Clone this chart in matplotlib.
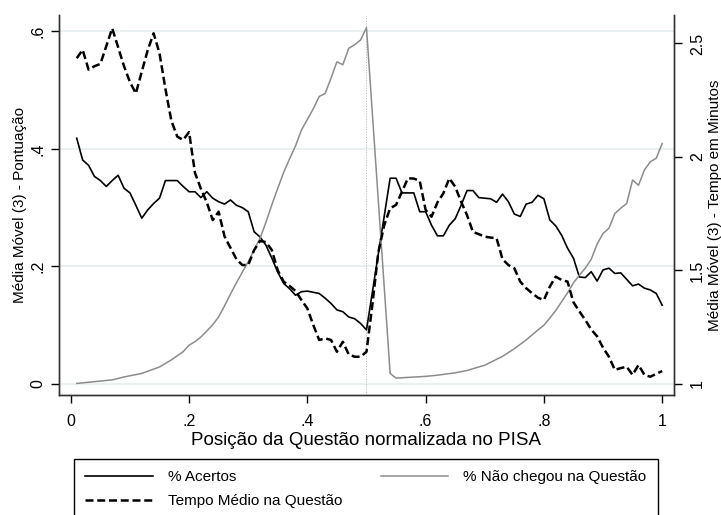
import numpy as np
import matplotlib.pyplot as plt

plt.rcParams['font.family'] = ['Liberation Sans', 'DejaVu Sans']

# % Acertos (eixo esquerdo)
x_acertos = [0.01, 0.02, 0.03, 0.04, 0.05, 0.06, 0.07, 0.08, 0.09, 0.10,
             0.11, 0.12, 0.13, 0.14, 0.15, 0.16, 0.18, 0.19, 0.20, 0.21,
             0.22, 0.23, 0.24, 0.25, 0.26, 0.27, 0.28, 0.29, 0.30, 0.31,
             0.32, 0.33, 0.34, 0.35, 0.36, 0.37, 0.38, 0.39, 0.40, 0.41,
             0.42, 0.43, 0.44, 0.45, 0.46, 0.47, 0.48, 0.49, 0.50, 0.54,
             0.55, 0.56, 0.57, 0.58, 0.59, 0.60, 0.61, 0.62, 0.63, 0.64,
             0.65, 0.66, 0.67, 0.68, 0.69, 0.70, 0.71, 0.72, 0.73, 0.74,
             0.75, 0.76, 0.77, 0.78, 0.79, 0.80, 0.81, 0.82, 0.83, 0.84,
             0.85, 0.86, 0.87, 0.88, 0.89, 0.90, 0.91, 0.92, 0.93, 0.94,
             0.95, 0.96, 0.97, 0.98, 0.99, 1.00]
acertos = [.418, .381, .372, .353, .346, .336, .346, .355, .333, .325,
           .304, .282, .296, .307, .316, .346, .346, .336, .327, .327,
           .317, .327, .316, .310, .306, .313, .304, .300, .293, .259,
           .250, .236, .214, .190, .171, .162, .151, .157, .158, .156,
           .154, .146, .137, .126, .123, .114, .111, .103, .092, .350,
           .350, .325, .325, .325, .293, .293, .270, .252, .252, .270,
           .281, .304, .329, .329, .317, .316, .315, .309, .323, .310,
           .289, .285, .306, .309, .321, .315, .279, .269, .253, .231,
           .214, .182, .181, .191, .175, .194, .197, .188, .189, .178,
           .167, .170, .163, .160, .154, .134]

# % Nao chegou na questao (eixo esquerdo)
x_naochegou = [0.01, 0.04, 0.07, 0.09, 0.12, 0.15, 0.17, 0.19, 0.20, 0.21,
               0.22, 0.23, 0.24, 0.25, 0.26, 0.27, 0.28, 0.29, 0.30, 0.31,
               0.32, 0.33, 0.34, 0.35, 0.36, 0.37, 0.38, 0.39, 0.40, 0.41,
               0.42, 0.43, 0.44, 0.45, 0.46, 0.47, 0.48, 0.49, 0.50, 0.54,
               0.55, 0.60, 0.62, 0.65, 0.67, 0.70, 0.73, 0.75, 0.77, 0.79,
               0.80, 0.81, 0.82, 0.83, 0.84, 0.85, 0.86, 0.87, 0.88, 0.89,
               0.90, 0.91, 0.92, 0.93, 0.94, 0.95, 0.96, 0.97, 0.98, 0.99,
               1.00]
naochegou = [.001, .004, .007, .012, .018, .029, .041, .055, .066, .072,
             .080, .090, .101, .114, .133, .153, .172, .190, .208, .228,
             .248, .275, .305, .333, .360, .383, .405, .432, .450, .468,
             .489, .494, .520, .548, .543, .571, .577, .585, .606, .018,
             .010, .013, .015, .019, .023, .032, .047, .060, .075, .092,
             .100, .112, .125, .140, .155, .172, .185, .197, .212, .238,
             .256, .265, .290, .299, .307, .347, .338, .364, .378, .384,
             .409]

# Tempo medio na questao, em minutos (eixo direito)
x_tempo = [0.01, 0.02, 0.03, 0.04, 0.05, 0.07, 0.09, 0.10, 0.11, 0.12,
           0.13, 0.14, 0.15, 0.16, 0.17, 0.18, 0.19, 0.20, 0.21, 0.22,
           0.23, 0.24, 0.25, 0.26, 0.27, 0.28, 0.29, 0.30, 0.31, 0.32,
           0.33, 0.34, 0.35, 0.36, 0.37, 0.38, 0.39, 0.40, 0.41, 0.42,
           0.43, 0.44, 0.45, 0.46, 0.47, 0.48, 0.49, 0.50, 0.51, 0.52,
           0.53, 0.54, 0.55, 0.56, 0.57, 0.58, 0.59, 0.60, 0.61, 0.62,
           0.63, 0.64, 0.65, 0.66, 0.67, 0.68, 0.69, 0.70, 0.71, 0.72,
           0.73, 0.74, 0.75, 0.76, 0.77, 0.78, 0.79, 0.80, 0.81, 0.82,
           0.83, 0.84, 0.85, 0.86, 0.87, 0.88, 0.89, 0.90, 0.91, 0.92,
           0.93, 0.94, 0.95, 0.96, 0.97, 0.98, 0.99, 1.00]
tempo = [2.435, 2.472, 2.385, 2.400, 2.410, 2.567, 2.400, 2.330, 2.280, 2.376,
         2.470, 2.545, 2.457, 2.300, 2.160, 2.090, 2.075, 2.110, 1.930, 1.860,
         1.800, 1.722, 1.759, 1.650, 1.600, 1.550, 1.524, 1.524, 1.590, 1.630,
         1.625, 1.590, 1.500, 1.451, 1.432, 1.410, 1.370, 1.333, 1.260, 1.194,
         1.201, 1.194, 1.142, 1.186, 1.130, 1.120, 1.120, 1.142, 1.350, 1.580,
         1.700, 1.774, 1.789, 1.847, 1.906, 1.905, 1.895, 1.767, 1.737, 1.800,
         1.840, 1.906, 1.869, 1.803, 1.744, 1.670, 1.660, 1.649, 1.645, 1.642,
         1.550, 1.524, 1.510, 1.451, 1.422, 1.400, 1.380, 1.370, 1.429, 1.473,
         1.458, 1.451, 1.360, 1.320, 1.282, 1.240, 1.210, 1.160, 1.120, 1.062,
         1.070, 1.076, 1.040, 1.084, 1.040, 1.032, 1.045, 1.057]

x_ticks = [0, .2, .4, .6, .8, 1]
x_ticklabels = ['0', '.2', '.4', '.6', '.8', '1']
left_ticks = [0, .2, .4, .6]
left_ticklabels = ['0', '.2', '.4', '.6']
right_ticks = [1, 1.5, 2, 2.5]
right_ticklabels = ['1', '1.5', '2', '2.5']

#set up figure
fig = plt.figure(figsize=(7.21, 5.15), dpi=100)
ax = fig.add_axes([0.0818, 0.2330, 0.8530, 0.7379])
ax2 = ax.twinx()

ax.grid(axis='y', color='#e4edf0', lw=1.2)
ax.set_axisbelow(True)
ax.axvline(0.5, color='#b5b5b5', lw=0.7, ls=':')

#lines
l1, = ax.plot(x_acertos, acertos, color='black', lw=1.2)
l2, = ax.plot(x_naochegou, naochegou, color='#8c8c8c', lw=1.1)
l3, = ax2.plot(x_tempo, tempo, color='black', lw=1.8, ls=(0, (3.2, 1.5)))

ax.set_xlim(-0.02, 1.02)
ax.set_ylim(-0.0187, 0.6276)
ax2.set_ylim(0.9515, 2.6256)

for a in (ax, ax2):
    a.spines['top'].set_visible(False)
    for s in a.spines.values():
        s.set_linewidth(1.0)
        s.set_color('#333333')

ax.set_xticks(x_ticks, x_ticklabels)
ax.set_yticks(left_ticks, left_ticklabels, rotation=90, va='center')
ax2.set_yticks(right_ticks, right_ticklabels, rotation=90, va='center')
ax.tick_params(axis='x', direction='out', length=5.5, width=1, labelsize=11.5, pad=8)
ax.tick_params(axis='y', direction='out', length=5.5, width=1, labelsize=11.5, pad=4)
ax2.tick_params(axis='y', direction='out', length=5.5, width=1, labelsize=11.5, pad=6)

ax.set_xlabel('Posição da Questão normalizada no PISA', fontsize=13.5)
ax.xaxis.set_label_coords(0.5, -0.098)
ax.set_ylabel('Média Móvel (3) - Pontuação', fontsize=11)
ax.yaxis.set_label_coords(-0.0525, 0.5)
ax2.set_ylabel('Média Móvel (3) - Tempo em Minutos', fontsize=11)
ax2.yaxis.set_label_coords(1.055, 0.5)

#legend
fig.legend([l1, l3, l2],
           ['% Acertos', 'Tempo Médio na Questão', '% Não chegou na Questão'],
           loc='upper left', bbox_to_anchor=(0.1026, 0.0, 0.81, 0.1087),
           mode='expand', ncol=2, frameon=True, fancybox=False,
           edgecolor='black', framealpha=1, fontsize=11, handlelength=4.4,
           handletextpad=1.0, borderpad=0.75, labelspacing=0.62,
           borderaxespad=0)

fig.savefig('out.png', dpi=100)
plt.close()
